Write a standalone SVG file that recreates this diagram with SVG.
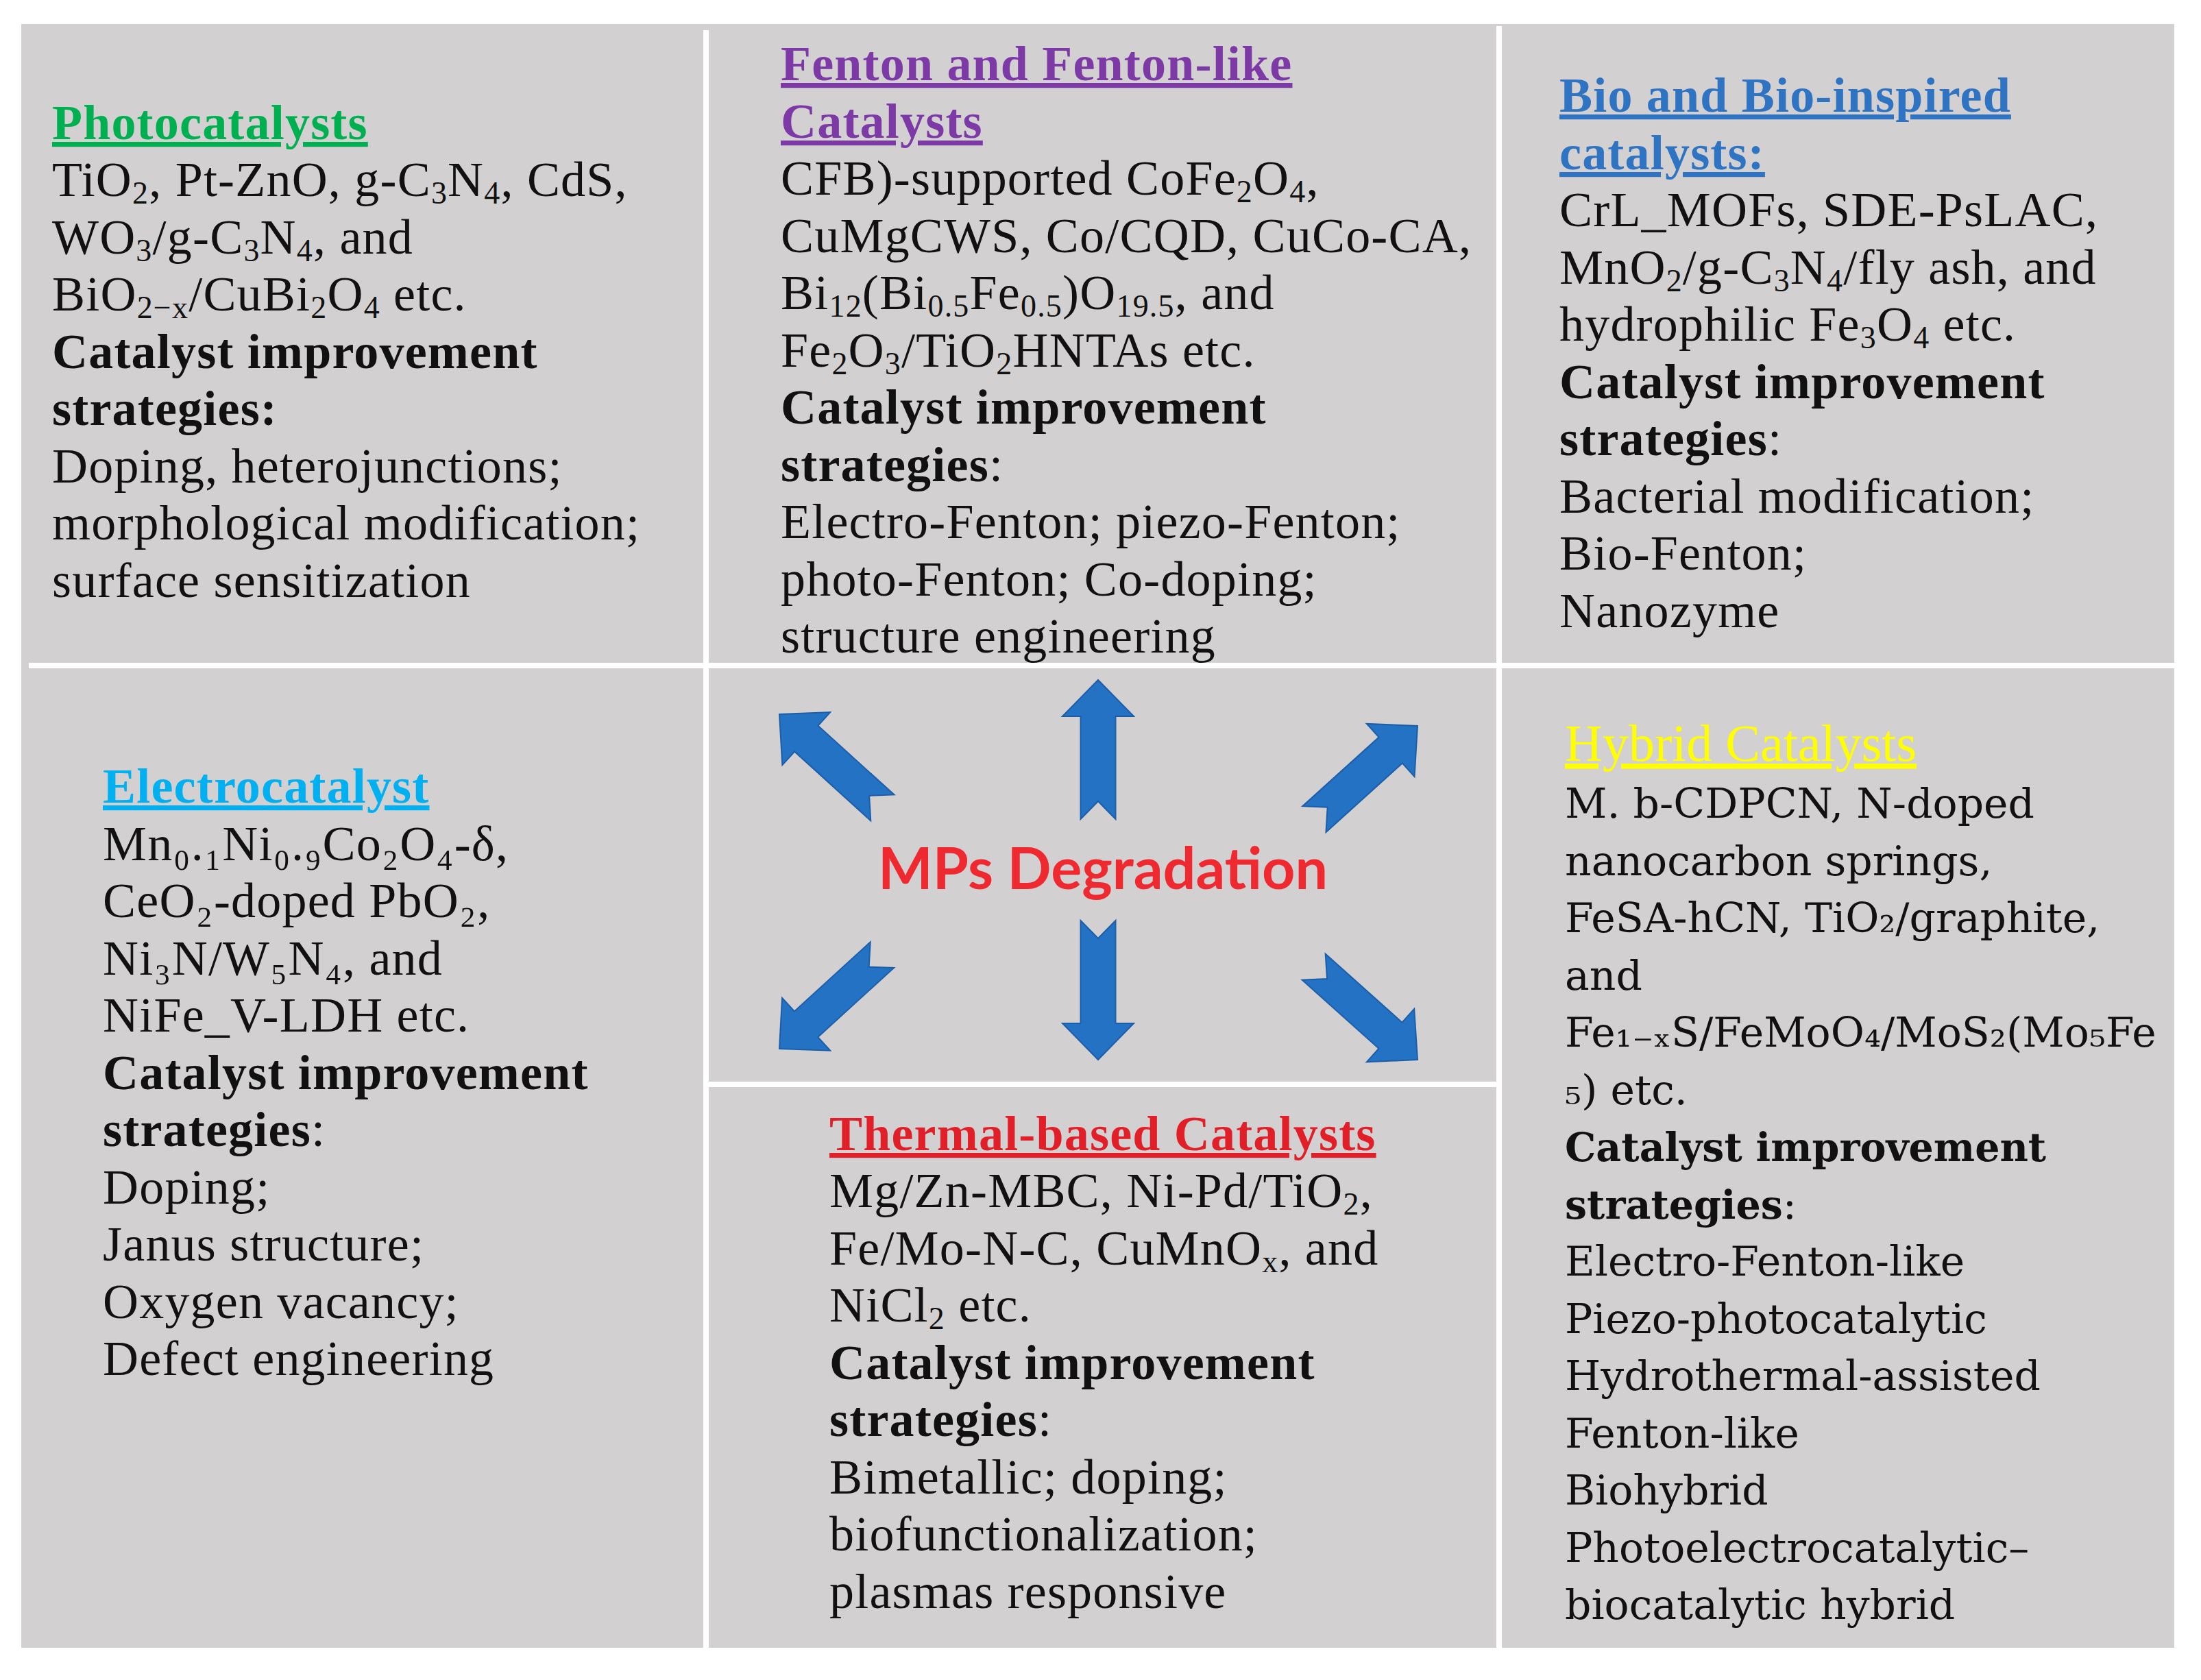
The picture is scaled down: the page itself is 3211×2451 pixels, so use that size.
<svg xmlns="http://www.w3.org/2000/svg" width="3211" height="2451" viewBox="0 0 3211 2451">
<style>
.bg{fill:#d3d0d1}
.sep{stroke:#ffffff;stroke-width:8}
.t{font-family:"Liberation Serif","Times New Roman",serif;font-size:72px;letter-spacing:1.2px;fill:#111111}
.h{font-family:"DejaVu Serif",serif;font-size:60px;fill:#111111}
.b{font-weight:bold}
.hb{font-weight:bold;font-size:57px}
.title{font-family:"Liberation Serif","Times New Roman",serif;font-size:72px;letter-spacing:1.2px;font-weight:bold;text-decoration:underline}
.s{font-size:46px;baseline-shift:-11px}
.arrow{fill:#2372c4;stroke:#1c5ea8;stroke-width:2}
.center{font-family:Lato,"Open Sans",sans-serif;font-weight:bold;font-size:84px;fill:#ee2a30}
</style>
<defs>
<path id="blk" d="M0,0 L52,53 L25.5,53 L25.5,203 L0,177 L-25.5,203 L-25.5,53 L-52,53 Z"/>
</defs>
<rect x="0" y="0" width="3211" height="2451" fill="#ffffff"/>
<rect class="bg" x="31" y="35" width="3141" height="2369"/>

<g id="photocatalysts">
<text class="title" x="76" y="203" fill="#00b050">Photocatalysts</text>
<text class="t" x="76" y="286">TiO<tspan class="s">2</tspan>, Pt-ZnO, g-C<tspan class="s">3</tspan>N<tspan class="s">4</tspan>, CdS,</text>
<text class="t" x="76" y="370">WO<tspan class="s">3</tspan>/g-C<tspan class="s">3</tspan>N<tspan class="s">4</tspan>, and</text>
<text class="t" x="76" y="453">BiO<tspan class="s">2−x</tspan>/CuBi<tspan class="s">2</tspan>O<tspan class="s">4</tspan> etc.</text>
<text class="t b" x="76" y="537">Catalyst improvement</text>
<text class="t b" x="76" y="620">strategies:</text>
<text class="t" x="76" y="704">Doping, heterojunctions;</text>
<text class="t" x="76" y="787">morphological modification;</text>
<text class="t" x="76" y="871">surface sensitization</text>
</g>

<g id="fenton">
<text class="title" x="1139" y="117" fill="#7d3aa6">Fenton and Fenton-like</text>
<text class="title" x="1139" y="201" fill="#7d3aa6">Catalysts</text>
<text class="t" x="1139" y="284">CFB)-supported CoFe<tspan class="s">2</tspan>O<tspan class="s">4</tspan>,</text>
<text class="t" x="1139" y="368">CuMgCWS, Co/CQD, CuCo-CA,</text>
<text class="t" x="1139" y="451">Bi<tspan class="s">12</tspan>(Bi<tspan class="s">0.5</tspan>Fe<tspan class="s">0.5</tspan>)O<tspan class="s">19.5</tspan>, and</text>
<text class="t" x="1139" y="535">Fe<tspan class="s">2</tspan>O<tspan class="s">3</tspan>/TiO<tspan class="s">2</tspan>HNTAs etc.</text>
<text class="t b" x="1139" y="618">Catalyst improvement</text>
<text class="t" x="1139" y="702"><tspan class="b">strategies</tspan>:</text>
<text class="t" x="1139" y="785">Electro-Fenton; piezo-Fenton;</text>
<text class="t" x="1139" y="869">photo-Fenton; Co-doping;</text>
<text class="t" x="1139" y="952">structure engineering</text>
</g>

<g id="bio">
<text class="title" x="2275" y="163" fill="#2f74c2">Bio and Bio-inspired</text>
<text class="title" x="2275" y="247" fill="#2f74c2">catalysts:</text>
<text class="t" x="2275" y="330">CrL_MOFs, SDE-PsLAC,</text>
<text class="t" x="2275" y="414">MnO<tspan class="s">2</tspan>/g-C<tspan class="s">3</tspan>N<tspan class="s">4</tspan>/fly ash, and</text>
<text class="t" x="2275" y="497">hydrophilic Fe<tspan class="s">3</tspan>O<tspan class="s">4</tspan> etc.</text>
<text class="t b" x="2275" y="581">Catalyst improvement</text>
<text class="t" x="2275" y="664"><tspan class="b">strategies</tspan>:</text>
<text class="t" x="2275" y="748">Bacterial modification;</text>
<text class="t" x="2275" y="831">Bio-Fenton;</text>
<text class="t" x="2275" y="915">Nanozyme</text>
</g>

<g id="electrocatalyst">
<text class="title" x="150" y="1171" fill="#00b0f0">Electrocatalyst</text>
<text class="t" x="150" y="1255">Mn₀.₁Ni₀.₉Co₂O₄-δ,</text>
<text class="t" x="150" y="1338">CeO₂-doped PbO₂,</text>
<text class="t" x="150" y="1422">Ni₃N/W₅N₄, and</text>
<text class="t" x="150" y="1505">NiFe_V-LDH etc.</text>
<text class="t b" x="150" y="1589">Catalyst improvement</text>
<text class="t" x="150" y="1672"><tspan class="b">strategies</tspan>:</text>
<text class="t" x="150" y="1756">Doping;</text>
<text class="t" x="150" y="1839">Janus structure;</text>
<text class="t" x="150" y="1923">Oxygen vacancy;</text>
<text class="t" x="150" y="2006">Defect engineering</text>
</g>

<g id="thermal">
<text class="title" x="1210" y="1678" fill="#e11f28">Thermal-based Catalysts</text>
<text class="t" x="1210" y="1761">Mg/Zn-MBC, Ni-Pd/TiO<tspan class="s">2</tspan>,</text>
<text class="t" x="1210" y="1845">Fe/Mo-N-C, CuMnO<tspan class="s">x</tspan>, and</text>
<text class="t" x="1210" y="1928">NiCl<tspan class="s">2</tspan> etc.</text>
<text class="t b" x="1210" y="2012">Catalyst improvement</text>
<text class="t" x="1210" y="2095"><tspan class="b">strategies</tspan>:</text>
<text class="t" x="1210" y="2179">Bimetallic; doping;</text>
<text class="t" x="1210" y="2262">biofunctionalization;</text>
<text class="t" x="1210" y="2346">plasmas responsive</text>
</g>

<g id="hybrid">
<text x="2283" y="1110" fill="#ffff00" style="font-family:'Liberation Serif','Times New Roman',serif;font-size:76px;text-decoration:underline">Hybrid Catalysts</text>
<text class="h" x="2283" y="1193">M. b-CDPCN, N-doped</text>
<text class="h" x="2283" y="1277">nanocarbon springs,</text>
<text class="h" x="2283" y="1360">FeSA-hCN, TiO₂/graphite,</text>
<text class="h" x="2283" y="1444">and</text>
<text class="h" x="2283" y="1527">Fe₁₋ₓS/FeMoO₄/MoS₂(Mo₅Fe</text>
<text class="h" x="2283" y="1611">₅) etc.</text>
<text class="h hb" x="2283" y="1694">Catalyst improvement</text>
<text class="h" x="2283" y="1778"><tspan class="hb">strategies</tspan>:</text>
<text class="h" x="2283" y="1861">Electro-Fenton-like</text>
<text class="h" x="2283" y="1945">Piezo-photocatalytic</text>
<text class="h" x="2283" y="2028">Hydrothermal-assisted</text>
<text class="h" x="2283" y="2112">Fenton-like</text>
<text class="h" x="2283" y="2195">Biohybrid</text>
<text class="h" x="2283" y="2279">Photoelectrocatalytic–</text>
<text class="h" x="2283" y="2362">biocatalytic hybrid</text>
</g>

<g id="separators">
<line class="sep" x1="1030" y1="44" x2="1030" y2="2404"/>
<line class="sep" x1="2187" y1="38" x2="2187" y2="2404"/>
<line class="sep" x1="42" y1="971" x2="3172" y2="971"/>
<line class="sep" x1="1030" y1="1582" x2="2187" y2="1582"/>
</g>

<g id="mps-degradation">
<text class="center" x="1281" y="1297" textLength="656" lengthAdjust="spacingAndGlyphs">MPs Degradation</text>
</g>

<g id="connectors">
<use href="#blk" class="arrow" transform="translate(1602,992)"/>
<use href="#blk" class="arrow" transform="translate(1602,1546) rotate(180)"/>
<use href="#blk" class="arrow" transform="translate(1137,1042) rotate(-47.8)"/>
<use href="#blk" class="arrow" transform="translate(2068,1059) rotate(47.9)"/>
<use href="#blk" class="arrow" transform="translate(1137,1530) rotate(-132.4)"/>
<use href="#blk" class="arrow" transform="translate(2068,1546) rotate(131.8)"/>
</g>
</svg>
